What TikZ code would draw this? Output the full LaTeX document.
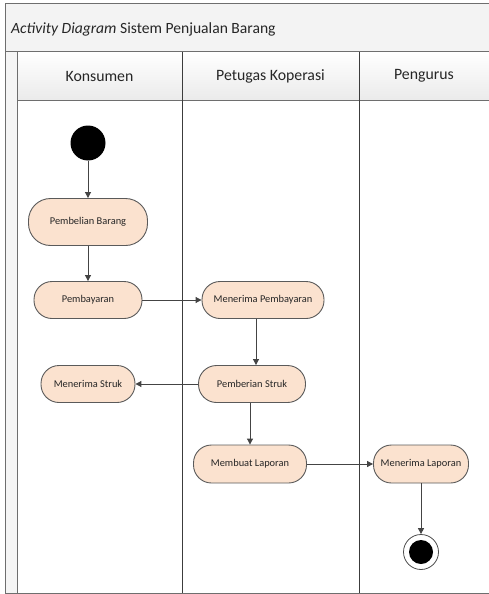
\documentclass[tikz,border=0pt]{standalone}
\usepackage{fontspec}
\setmainfont{Carlito}
\usetikzlibrary{arrows.meta,calc}
\definecolor{nodefill}{HTML}{FBE2CF}
\definecolor{nodeline}{HTML}{5A5A5A}
\definecolor{frameline}{HTML}{6E6E6E}
\definecolor{laneline}{HTML}{3C3C3C}
\definecolor{bandfill}{HTML}{F3F3F3}
\definecolor{arrowcol}{HTML}{444444}
\tikzset{
  act/.style={draw=nodeline, line width=0.9pt, fill=nodefill, rectangle,
    rounded corners=18pt, minimum height=37pt, inner sep=0pt,
    font=\fontsize{10.4}{12}\selectfont, text=black!85},
  flow/.style={draw=arrowcol, line width=1pt, -{Triangle[length=6pt,width=6pt]}},
  hdr/.style={font=\fontsize{15.8}{18}\selectfont, text=black!85},
}
\begin{document}
\begin{tikzpicture}[x=1pt,y=-1pt]
\useasboundingbox (0,0) rectangle (489,594);
% bands
\fill[bandfill] (5,4) rectangle (489,52);
\fill[top color=white, bottom color=black!8] (17,52) rectangle (489,100);
\fill[black!4] (5,52) rectangle (17,593);
% frame
\draw[frameline, line width=1pt] (489,4) -- (5,4) -- (5,593) -- (489,593);
\draw[frameline, line width=1pt] (5,52) -- (489,52);
\draw[frameline, line width=1pt] (17,52) -- (17,593);
\draw[frameline, line width=0.8pt] (17,100) -- (489,100);
\draw[laneline, line width=1pt] (182,52) -- (182,593);
\draw[laneline, line width=1pt] (359,52) -- (359,593);
% title and headers
\node[anchor=west, inner sep=0pt, font=\fontsize{15.6}{18}\selectfont, text=black!85] (title) at (11,29) {\textit{Activity Diagram} Sistem Penjualan Barang};
\node[hdr] (h1) at (99.5,76) {Konsumen};
\node[hdr] (h2) at (270.5,76) {Petugas Koperasi};
\node[hdr] (h3) at (424,76) {Pengurus};
% start
\node[circle, fill=black, minimum size=35pt, inner sep=0pt] (start) at (88,143) {};
% activities
\node[act, minimum width=119pt, minimum height=47pt, rounded corners=22pt] (pb) at (88,222) {Pembelian Barang};
\node[act, minimum width=108pt] (bay) at (88,300) {Pembayaran};
\node[act, minimum width=122pt] (mp) at (263,300) {Menerima Pembayaran};
\node[act, minimum width=94pt] (ms) at (88,384) {Menerima Struk};
\node[act, minimum width=107pt] (ps) at (252,384) {Pemberian Struk};
\node[act, minimum width=113pt, minimum height=38pt] (ml) at (250,464) {Membuat Laporan};
\node[act, minimum width=95pt, minimum height=38pt] (mlap) at (421,464) {Menerima Laporan};
% end
\node[circle, draw=black!70, line width=0.8pt, minimum size=35pt, inner sep=0pt] (fin) at (421,552) {};
\node[circle, fill=black, minimum size=24pt, inner sep=0pt] (finin) at (fin.center) {};
% flows
\draw[flow] (start) -- (pb);
\draw[flow] (pb) -- (bay);
\draw[flow] (bay) -- (mp);
\coordinate (c1) at ($(mp.south)+(-7,0)$);
\draw[flow] (c1) -- (c1 |- ps.north);
\draw[flow] (ps) -- (ms);
\draw[flow] (ps.south -| ml.north) -- (ml.north);
\draw[flow] (ml) -- (mlap);
\draw[flow] (mlap) -- (fin);
\end{tikzpicture}
\end{document}
